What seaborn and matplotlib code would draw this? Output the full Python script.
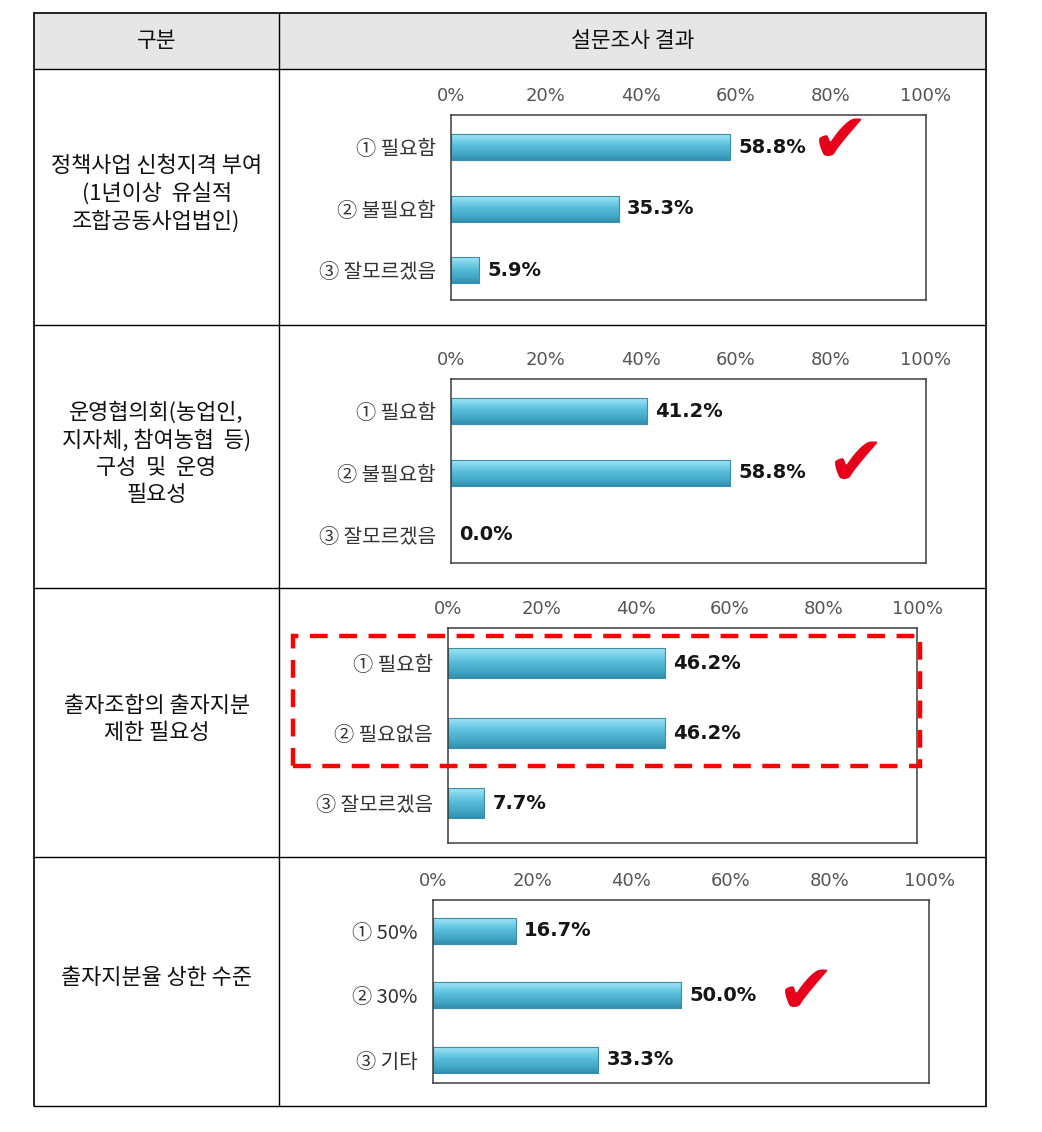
import matplotlib
matplotlib.use('Agg')
import matplotlib.pyplot as plt
import seaborn as sns
import numpy as np
from matplotlib.colors import LinearSegmentedColormap
from matplotlib.patches import Rectangle
from matplotlib.lines import Line2D

# ---------------- data ----------------
header_labels = ["구분", "설문조사 결과"]
row_titles = [
    "정책사업 신청지격 부여\n(1년이상  유실적\n조합공동사업법인)",
    "운영협의회(농업인,\n지자체, 참여농협  등)\n구성  및  운영\n필요성",
    "출자조합의 출자지분\n제한 필요성",
    "출자지분율 상한 수준",
]
q1_options = ["① 필요함", "② 불필요함", "③ 잘모르겠음"]
q1_values = [58.8, 35.3, 5.9]
q2_options = ["① 필요함", "② 불필요함", "③ 잘모르겠음"]
q2_values = [41.2, 58.8, 0.0]
q3_options = ["① 필요함", "② 필요없음", "③ 잘모르겠음"]
q3_values = [46.2, 46.2, 7.7]
q4_options = ["① 50%", "② 30%", "③ 기타"]
q4_values = [16.7, 50.0, 33.3]
x_ticks = [0, 20, 40, 60, 80, 100]
x_tick_labels = ["0%", "20%", "40%", "60%", "80%", "100%"]
checked_option = [0, 1, None, 1]

questions = [(q1_options, q1_values), (q2_options, q2_values),
             (q3_options, q3_values), (q4_options, q4_values)]

# ---------------- layout (pixels) ----------------
W, H = 1042, 1132
sns.set_theme(style="white")
plt.rcParams['font.family'] = ['Noto Sans CJK KR', 'DejaVu Sans']

fig = plt.figure(figsize=(W / 100, H / 100), dpi=100)
fig.patch.set_facecolor('white')

def fx(x):
    return x / W

def fy(y):
    return 1 - y / H

def hline(x0, x1, y, lw=1.0, color='black', **kw):
    fig.add_artist(Line2D([fx(x0), fx(x1)], [fy(y), fy(y)], transform=fig.transFigure,
                          color=color, lw=lw, zorder=5, **kw))

def vline(x, y0, y1, lw=1.0, color='black', **kw):
    fig.add_artist(Line2D([fx(x), fx(x)], [fy(y0), fy(y1)], transform=fig.transFigure,
                          color=color, lw=lw, zorder=5, **kw))

T_L, T_R, T_T = 34, 986, 13
col_x = 279
row_y = [69, 325, 588, 857, 1106]

# header fill
fig.add_artist(Rectangle((fx(T_L), fy(row_y[0])), fx(T_R) - fx(T_L), fy(T_T) - fy(row_y[0]),
                         transform=fig.transFigure, facecolor='#e6e6e6', edgecolor='none', zorder=-1))
# table grid
hline(T_L, T_R, T_T, lw=1.2)
for y in row_y:
    hline(T_L, T_R, y, lw=1.0)
vline(T_L, T_T, row_y[-1], lw=1.2)
vline(T_R, T_T, row_y[-1], lw=1.2)
vline(col_x, T_T, row_y[-1], lw=1.0)

fig.text(fx((T_L + col_x) / 2), fy(41), header_labels[0], ha='center', va='center',
         fontsize=15.5, color='#111111')
fig.text(fx((col_x + T_R) / 2), fy(41), header_labels[1], ha='center', va='center',
         fontsize=15.5, color='#111111')

for i, t in enumerate(row_titles):
    cy = (row_y[i] + row_y[i + 1]) / 2 - 3
    fig.text(fx((T_L + col_x) / 2), fy(cy), t, ha='center', va='center', fontsize=15.8,
             linespacing=1.3, color='#111111')

panels = [
    dict(box=(451, 115, 926, 300), ylim=(2.48, -0.52), bh=0.42, chk=(82.0, -0.07)),
    dict(box=(451, 379, 926, 563), ylim=(2.46, -0.52), bh=0.42, chk=(85.3, -0.12)),
    dict(box=(448, 628, 917, 843), ylim=(2.57, -0.50), bh=0.42, chk=None),
    dict(box=(433, 900, 929, 1083), ylim=(2.36, -0.48), bh=0.40, chk=(75.2, -0.03)),
]

bar_cmap = LinearSegmentedColormap.from_list(
    'bar', ['#a4e4f5', '#74cfe8', '#52b9d6', '#45a9c7', '#3190ae'])
grad = np.linspace(0, 1, 64).reshape(-1, 1)

for qi, ((opts, vals), pan) in enumerate(zip(questions, panels)):
    x0, y0, x1, y1 = pan['box']
    ax = fig.add_axes([fx(x0), fy(y1), fx(x1) - fx(x0), fy(y0) - fy(y1)])
    ax.set_facecolor('white')
    sns.barplot(x=vals, y=opts, orient='h', color='#52b9d6', width=pan['bh'],
                edgecolor='#3a8fa8', linewidth=0.8, ax=ax, zorder=2)
    ax.set_xlim(0, 100)
    ax.set_ylim(*pan['ylim'])
    # gradient fill for bars
    for p in list(ax.patches):
        w = p.get_width()
        if w <= 0:
            p.set_visible(False)
            continue
        bx, by, bh = p.get_x(), p.get_y(), p.get_height()
        im = ax.imshow(grad, cmap=bar_cmap, aspect='auto', origin='upper',
                       extent=(bx, bx + w, by + bh, by), zorder=2.1, interpolation='bicubic')
        im.set_clip_path(p)
        p.set_facecolor('none')
        p.set_zorder(2.2)
    ax.set_xlim(0, 100)
    ax.set_ylim(*pan['ylim'])
    ax.set_xlabel('')
    ax.set_ylabel('')
    ax.xaxis.tick_top()
    ax.set_xticks(x_ticks)
    ax.set_xticklabels(x_tick_labels, fontsize=13, color='#555555', family='DejaVu Sans')
    ax.tick_params(axis='x', length=0, pad=7)
    ax.tick_params(axis='y', length=0, pad=11, labelsize=14.5, labelcolor='#333333')
    for s in ax.spines.values():
        s.set_visible(True)
        s.set_color('#3c3c3c')
        s.set_linewidth(1.1)
    ax.grid(False)
    for i, v in enumerate(vals):
        ax.annotate(f"{v:.1f}%", xy=(v, i), xytext=(6, 0), textcoords='offset points',
                    ha='left', va='center', fontsize=14, fontweight='bold',
                    family='DejaVu Sans', color='#151515', zorder=4)
    if pan['chk'] is not None:
        cx, dy = pan['chk']
        ax.text(cx, checked_option[qi] + dy, "✔", ha='center', va='center', fontsize=50,
                color='#e8001a', family='DejaVu Sans', zorder=6, clip_on=False)

# dashed highlight box around the first two answers of question 3
fig.add_artist(Rectangle((fx(293), fy(766)), fx(920) - fx(293), fy(636) - fy(766),
                         transform=fig.transFigure, fill=False, edgecolor='#ff0000',
                         lw=3.2, linestyle=(0, (4, 2.6)), zorder=10))

fig.savefig('out.png', dpi=100, facecolor='white')
